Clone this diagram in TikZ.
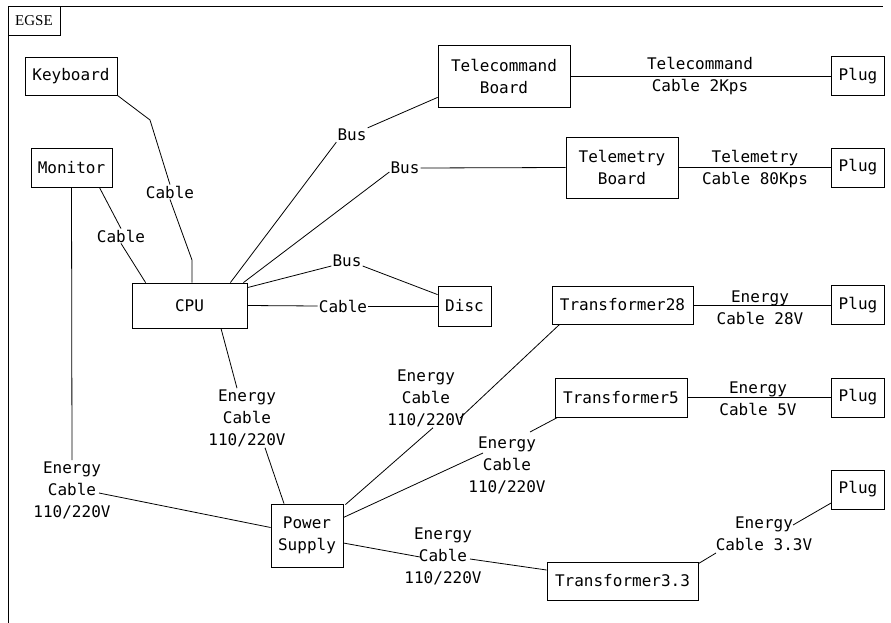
\documentclass[tikz,border=0pt]{standalone}
\usepackage{fontspec}
\newfontfamily\diafont{DejaVu Sans Mono}
\newfontfamily\tabfont{Liberation Serif}
\usetikzlibrary{calc}

\begin{document}
\begin{tikzpicture}[x=1pt,y=-1pt,
    wire/.style={line width=0.8pt},
    unit/.style={draw, line width=0.8pt, align=center, inner sep=0pt,
                 font=\diafont\fontsize{16}{22}\selectfont},
    lbl/.style={align=center, inner sep=1pt, font=\diafont\fontsize{16}{22}\selectfont}]
            \useasboundingbox (0,0) rectangle (891,623);
            % frame and tab
            \draw[wire] (8,623) -- (8,6) -- (883,6);
            \node[draw, wire, inner sep=0pt, minimum width=52pt, minimum height=29pt,
                  font=\tabfont\fontsize{15}{17}\selectfont] (egse) at (34,20.5) {EGSE};

            % units
            \node[unit, minimum width=92pt, minimum height=38pt] (kbd) at (71,76) {Keyboard};
            \node[unit, minimum width=81pt, minimum height=39pt] (mon) at (71.5,167.5) {Monitor};
            \node[unit, minimum width=115pt, minimum height=45pt] (cpu) at (189.5,305.5) {CPU};
            \node[unit, minimum width=53pt, minimum height=40pt] (disc) at (464.5,306) {Disc};
            \node[unit, minimum width=132pt, minimum height=62pt] (tcb) at (504,76) {Telecommand\\Board};
            \node[unit, minimum width=112pt, minimum height=61pt] (tmb) at (622,167.5) {Telemetry\\Board};
            \node[unit, minimum width=72pt, minimum height=63pt] (ps) at (307,535.5) {Power\\Supply};
            \node[unit, minimum width=141pt, minimum height=38pt] (t28) at (622.5,305) {Transformer28};
            \node[unit, minimum width=132pt, minimum height=39pt] (t5) at (621,397.5) {Transformer5};
            \node[unit, minimum width=151pt, minimum height=38pt] (t33) at (622.5,581) {Transformer3.3};
            \foreach \n/\y in {1/76, 2/167.5, 3/305, 4/397.5, 5/489.5}
                \node[unit, minimum width=53pt, minimum height=39pt] (plug\n) at (858,\y) {Plug};

            % labels
            \node[lbl] (lkc) at (170,192) {Cable};
            \node[lbl] (lmc) at (121,236) {Cable};
            \node[lbl] (lmp) at (72,490) {Energy\\Cable\\110/220V};
            \node[lbl] (lcp) at (247,418) {Energy\\Cable\\110/220V};
            \node[lbl] (lpt28) at (426,398) {Energy\\Cable\\110/220V};
            \node[lbl] (lpt5) at (507,465) {Energy\\Cable\\110/220V};
            \node[lbl] (lpt33) at (443,556) {Energy\\Cable\\110/220V};
            \node[lbl] (lb1) at (352,135) {Bus};
            \node[lbl] (lb2) at (405,168) {Bus};
            \node[lbl] (lb3) at (347,261) {Bus};
            \node[lbl] (lcd) at (343,306) {Cable};
            \node[lbl] (ltc) at (700,76.5) {Telecommand\\Cable 2Kps};
            \node[lbl] (ltm) at (755,169) {Telemetry\\Cable 80Kps};
            \node[lbl] (l28) at (760,307.5) {Energy\\Cable 28V};
            \node[lbl] (l5) at (758,399) {Energy\\Cable 5V};
            \node[lbl] (l33) at (764,533.5) {Energy\\Cable 3.3V};

            % keyboard and monitor
            \coordinate (kb1) at (150,120);
            \coordinate (kb2) at (192,260);
            \draw[wire] (kbd.south east) -- (kb1) -- (lkc.north);
            \draw[wire] (lkc.south) -- (kb2) -- (kb2 |- cpu.north);
            \draw[wire] ($(mon.south east)+(-13,0)$) -- (lmc.north);
            \draw[wire] (lmc.south) -- ($(cpu.north west)+(14,0)$);
            \draw[wire] (mon.south) -- (lmp.north);
            \draw[wire] ($(lmp.center)+(27,3)$) -- ($(ps.west)+(0,-8)$);

            % cpu
            \draw[wire] ($(cpu.north east)+(-17,0)$) -- (lb1.south west);
            \draw[wire] (lb1.north east) -- ($(tcb.south west)+(0,-10)$);
            \draw[wire] ($(cpu.north east)+(-4,0)$) -- ($(lb2.west)+(0,4)$);
            \draw[wire] (lb2.east) -- (tmb.west);
            \draw[wire] ($(cpu.north east)+(0,5)$) -- ($(lb3.west)+(0,5)$);
            \draw[wire] ($(lb3.east)+(0,5)$) -- ($(disc.north west)+(0,9)$);
            \draw[wire] (cpu.east) -- (lcd.west);
            \draw[wire] (lcd.east) -- (disc.west);
            \draw[wire] ($(cpu.south)+(31.5,0)$) -- ($(lcp.north)+(-10,0)$);
            \draw[wire] ($(lcp.south)+(18,0)$) -- ($(ps.north)+(-23,0)$);

            % power supply
            \draw[wire] ($(ps.north east)+(2,1)$) -- ($(lpt28.south)+(7,0)$);
            \draw[wire] ($(lpt28.center)+(34,20)$) -- ($(t28.south west)+(8,0)$);
            \draw[wire] ($(ps.east)+(0,-18)$) -- ($(lpt5.center)+(-24,-12)$);
            \draw[wire] ($(lpt5.center)+(23,-33)$) -- ($(t5.south west)+(3,0)$);
            \draw[wire] ($(ps.east)+(0,7.5)$) -- ($(lpt33.center)+(-23,1)$);
            \draw[wire] ($(lpt33.center)+(27,3)$) -- ($(t33.west)+(0,-11)$);

            % plugs
            \draw[wire] (tcb.east) -- (plug1.west);
            \draw[wire] (tmb.east) -- (plug2.west);
            \draw[wire] (t28.east) -- (plug3.west);
            \draw[wire] (t5.east) -- (plug4.west);
            \draw[wire] ($(t33.north east)+(0,2)$) -- ($(l33.center)+(-48,19.5)$);
            \draw[wire] ($(l33.center)+(29,-8.5)$) -- ($(plug5.west)+(0,13.5)$);
        \end{tikzpicture}
\end{document}
